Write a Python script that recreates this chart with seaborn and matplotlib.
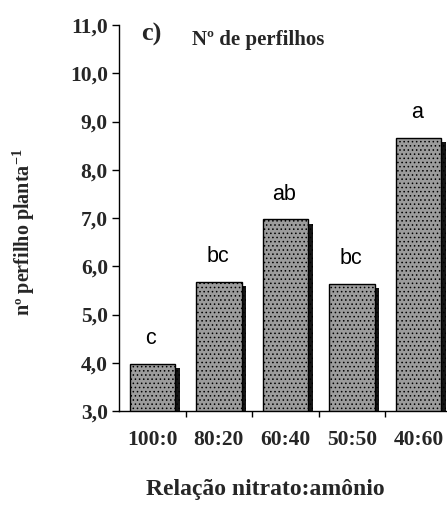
import matplotlib
matplotlib.use("Agg")
import matplotlib.pyplot as plt
import matplotlib.patheffects as pe
import seaborn as sns
import pandas as pd
import numpy as np

categories = ["100:0", "80:20", "60:40", "50:50", "40:60"]
values = [3.98, 5.68, 6.97, 5.64, 8.66]
letters = ["c", "bc", "ab", "bc", "a"]
yticks = [3, 4, 5, 6, 7, 8, 9, 10, 11]
ytick_labels = ["3,0", "4,0", "5,0", "6,0", "7,0", "8,0", "9,0", "10,0", "11,0"]

sns.set_style("white")
plt.rcParams["font.family"] = ["Liberation Serif", "DejaVu Serif"]
plt.rcParams["mathtext.fontset"] = "custom"
plt.rcParams["mathtext.bf"] = "Liberation Serif:bold"
plt.rcParams["mathtext.rm"] = "Liberation Serif"
plt.rcParams["hatch.linewidth"] = 0.6

df = pd.DataFrame({"ratio": categories, "value": values})

fig = plt.figure(figsize=(4.47, 5.05), dpi=100)
ax = fig.add_axes([119/447, 94/505, 333/447, 386/505])

sns.barplot(data=df, x="ratio", y="value", color="#9c9c9c", saturation=1,
            width=0.68, edgecolor="black", linewidth=1.0, ax=ax, order=categories)

for p in ax.patches:
    p.set_hatch("....")
    p.set_path_effects([pe.SimplePatchShadow(offset=(3.3, -3.3), shadow_rgbFace="#151515", alpha=1.0),
                        pe.Normal()])

for i, (v, t) in enumerate(zip(values, letters)):
    ax.text(i - 0.02, v + 0.52, t, ha="center", va="center", fontsize=15.5,
            family="Liberation Sans", color="black")

ax.set_ylim(3, 11)
ax.set_xlim(-0.5, 4.5)
ax.set_yticks(yticks)
ax.set_yticklabels(ytick_labels, fontsize=15.5, fontweight="bold")
ax.set_xticks(range(len(categories)))
ax.set_xticklabels(categories, fontsize=15.5, fontweight="bold")
ax.set_xticks(np.arange(0.5, 4.0, 1.0), minor=True)
ax.tick_params(axis="x", which="major", length=0, pad=14)
ax.tick_params(axis="x", which="minor", length=4, width=1, color="black", direction="out", bottom=True)
ax.tick_params(axis="y", length=5, width=1, color="black", direction="out", pad=3, left=True)

for s in ["top", "right"]:
    ax.spines[s].set_visible(False)
for s in ["left", "bottom"]:
    ax.spines[s].set_color("black")
    ax.spines[s].set_linewidth(1.0)
ax.set_xlabel("")
ax.set_ylabel("")

fig.text(151/447, 1 - 34/505, "c)", fontsize=19, fontweight="bold", ha="center", va="center")
fig.text(192/447, 1 - 40/505, "Nº de perfilhos", fontsize=15, fontweight="bold", ha="left", va="center")
fig.text(24/447, 1 - 232/505, r"nº perfilho planta$^{\mathbf{-1}}$", fontsize=14.5, fontweight="bold",
         rotation=90, ha="center", va="center")
fig.text(265/447, 1 - 490/505, "Relação nitrato:amônio", fontsize=17, fontweight="bold",
         ha="center", va="center")

fig.savefig("out.png", dpi=100)
